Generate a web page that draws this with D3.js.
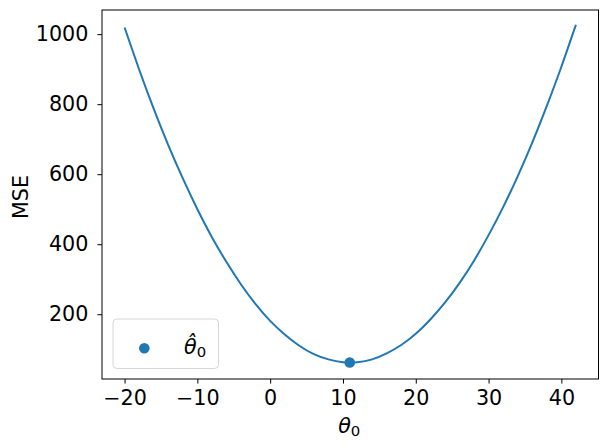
<!DOCTYPE html>
<html>

<head>
    <meta charset="utf-8" />
    <title>MSE vs theta0</title>
    <script src="https://d3js.org/d3.v7.min.js"></script>
</head>
<style>
    body { margin: 0; background-color: white; }
    svg { display: block; background-color: white; }
    text { font-family: 'DejaVu Sans', sans-serif; fill: black; }
</style>

<body>
    <div id="container"></div>

    <script>
        /* values */
        var thetas = [-20, -18, -16, -14, -12, -10, -8, -6, -4, -2, 0, 2, 4, 6, 8, 10,
                      12, 14, 16, 18, 20, 22, 24, 26, 28, 30, 32, 34, 36, 38, 40, 42];
        var mse = [1019, 899, 787, 683, 588, 500, 420, 349, 285, 229, 181, 142, 110, 86, 71, 63,
                   63, 71, 88, 112, 144, 185, 233, 289, 353, 426, 506, 594, 690, 795, 907, 1027];
        var thetaHat = [10.93];
        var mseHat = [62];
        var xTicks = [-20, -10, 0, 10, 20, 30, 40];
        var yTicks = [200, 400, 600, 800, 1000];

        var width = 608, height = 448;
        /* plot area (window.top is reserved, so use other names) */
        var pLeft = 102, pRight = 598.5, pTop = 10, pBottom = 379;
        var fs = 20.7;
        var blue = "#1f77b4";

        var svg = d3.select("#container").append("svg")
            .attr("width", width).attr("height", height);

        /* scales: x gets 5% margins like matplotlib, y limits as in the picture */
        var span = d3.max(thetas) - d3.min(thetas);
        var x = d3.scaleLinear()
            .domain([d3.min(thetas) - 0.05 * span, d3.max(thetas) + 0.05 * span])
            .range([pLeft, pRight]);
        var y = d3.scaleLinear().domain([15, 1069]).range([pBottom, pTop]);

        var fmt = function (d) { return d < 0 ? "\u2212" + Math.abs(d) : "" + d; };

        /* x axis */
        var xAxis = svg.append("g").attr("transform", "translate(0," + pBottom + ")")
            .call(d3.axisBottom(x).tickValues(xTicks).tickSize(4.6).tickPadding(7).tickFormat(fmt));
        xAxis.select(".domain").remove();
        xAxis.selectAll("text").attr("font-size", fs).attr("font-family", "DejaVu Sans")
            .attr("fill", "black").attr("dy", "0.71em");
        xAxis.selectAll("line").attr("stroke", "black").attr("stroke-width", 1);

        /* y axis */
        var yAxis = svg.append("g").attr("transform", "translate(" + pLeft + ",0)")
            .call(d3.axisLeft(y).tickValues(yTicks).tickSize(4.6).tickPadding(9).tickFormat(fmt));
        yAxis.select(".domain").remove();
        yAxis.selectAll("text").attr("font-size", fs).attr("font-family", "DejaVu Sans")
            .attr("fill", "black");
        yAxis.selectAll("line").attr("stroke", "black").attr("stroke-width", 1);

        /* the curve */
        var pts = thetas.map(function (t, i) { return [t, mse[i]]; });
        var line = d3.line()
            .x(function (d) { return x(d[0]); })
            .y(function (d) { return y(d[1]); })
            .curve(d3.curveNatural);
        svg.append("path").datum(pts)
            .attr("d", line)
            .attr("fill", "none")
            .attr("stroke", blue)
            .attr("stroke-width", 2);

        /* minimum marker */
        svg.selectAll("circle.hat").data(thetaHat).enter().append("circle")
            .attr("class", "hat")
            .attr("cx", function (d) { return x(d); })
            .attr("cy", function (d, i) { return y(mseHat[i]); })
            .attr("r", 5.3)
            .attr("fill", blue);

        /* frame */
        svg.append("rect")
            .attr("x", pLeft).attr("y", pTop)
            .attr("width", pRight - pLeft).attr("height", pBottom - pTop)
            .attr("fill", "none").attr("stroke", "black").attr("stroke-width", 1);

        /* axis labels */
        var xl = svg.append("text").attr("x", (pLeft + pRight) / 2 - 1).attr("y", 433)
            .attr("text-anchor", "middle").attr("font-size", fs);
        xl.append("tspan").attr("font-style", "italic").text("\u03b8");
        xl.append("tspan").attr("font-size", fs * 0.72).attr("dy", 2.5).text("0");

        svg.append("text")
            .attr("transform", "translate(27.5,197) rotate(-90)")
            .attr("text-anchor", "middle")
            .attr("font-size", fs)
            .text("MSE");

        /* legend */
        svg.append("rect")
            .attr("x", 113).attr("y", 319)
            .attr("width", 105.5).attr("height", 49.5)
            .attr("rx", 4)
            .attr("fill", "white").attr("fill-opacity", 0.8)
            .attr("stroke", "#d6d6d6").attr("stroke-width", 1);
        svg.append("circle").attr("cx", 144.3).attr("cy", 348.3).attr("r", 5.3).attr("fill", blue);
        var lt = svg.append("text").attr("x", 184).attr("y", 354).attr("font-size", fs);
        lt.append("tspan").attr("font-style", "italic").text("\u03b8\u0302");
        lt.append("tspan").attr("font-size", fs * 0.72).attr("dy", 2.5).text("0");
    </script>
</body>

</html>
